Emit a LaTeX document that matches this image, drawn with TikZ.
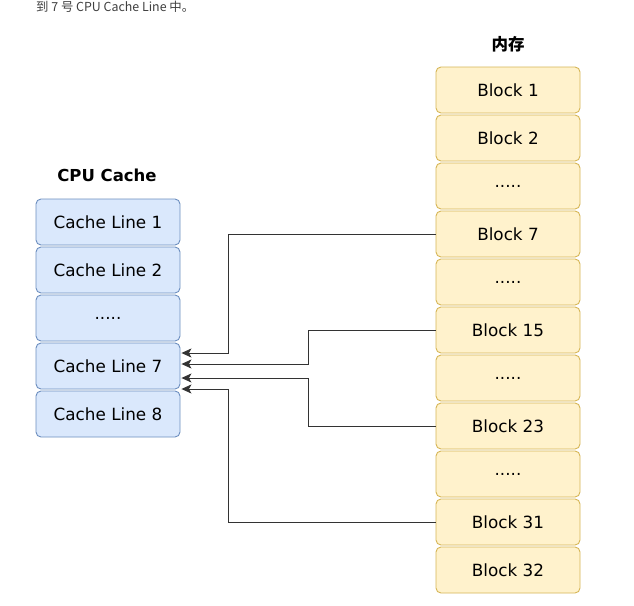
\documentclass[tikz,border=0pt]{standalone}
\usepackage{fontspec}
\setmainfont{DejaVu Sans}
\newfontfamily\cjk{Noto Sans CJK SC}
\usetikzlibrary{arrows.meta}
\definecolor{cacheFill}{HTML}{DAE8FC}
\definecolor{cacheStroke}{HTML}{6C8EBF}
\definecolor{blockFill}{HTML}{FFF2CC}
\definecolor{blockStroke}{HTML}{D6B656}
\definecolor{lineCol}{HTML}{333333}
\definecolor{topText}{HTML}{404040}
\begin{document}
\begin{tikzpicture}[x=1pt,y=-1pt,
  cacheline/.style={draw=cacheStroke, fill=cacheFill, line width=0.9pt, rounded corners=5pt,
    minimum width=144pt, minimum height=46pt, inner sep=0pt, font=\fontsize{16.8}{18}\selectfont},
  memblock/.style={draw=blockStroke, fill=blockFill, line width=0.9pt, rounded corners=5pt,
    minimum width=144pt, minimum height=46pt, inner sep=0pt, font=\fontsize{16.8}{18}\selectfont},
  title/.style={font=\fontsize{16.5}{18}\selectfont\bfseries},
  conn/.style={draw=lineCol, line width=0.9pt, -{Stealth[length=10pt,width=9pt,inset=2.5pt]}}]
\useasboundingbox (0,0) rectangle (634,605);
\fill[white] (0,0) rectangle (634,605);

\node[anchor=base west, text=topText, font=\cjk\fontsize{12.4}{13}\selectfont, inner sep=0pt] (top) at (36,12) {到 7 号 CPU Cache Line 中。};

\node[title] (cachetitle) at (107,175) {CPU Cache};
\node[title, font=\cjk\fontsize{16.5}{18}\selectfont\bfseries] (memtitle) at (508,44) {内存};

\node[cacheline] (cl1) at (108,222) {Cache Line 1};
\node[cacheline] (cl2) at (108,270) {Cache Line 2};
\node[cacheline] (cl3) at (108,318) {.....};
\node[cacheline] (cl7) at (108,366) {Cache Line 7};
\node[cacheline] (cl8) at (108,414) {Cache Line 8};

\node[memblock] (b1) at (508,90) {Block 1};
\node[memblock] (b2) at (508,138) {Block 2};
\node[memblock] (d1) at (508,186) {.....};
\node[memblock] (b7) at (508,234) {Block 7};
\node[memblock] (d2) at (508,282) {.....};
\node[memblock] (b15) at (508,330) {Block 15};
\node[memblock] (d3) at (508,378) {.....};
\node[memblock] (b23) at (508,426) {Block 23};
\node[memblock] (d4) at (508,474) {.....};
\node[memblock] (b31) at (508,522) {Block 31};
\node[memblock] (b32) at (508,570) {Block 32};

\draw[conn] (b7.west) -| ([xshift=48pt,yshift=13pt]cl7.east) -- ([xshift=1pt,yshift=13pt]cl7.east);
\draw[conn] (b15.west) -| ([xshift=128pt,yshift=2pt]cl7.east) -- ([xshift=1pt,yshift=2pt]cl7.east);
\draw[conn] (b23.west) -| ([xshift=128pt,yshift=-12pt]cl7.east) -- ([xshift=1pt,yshift=-12pt]cl7.east);
\draw[conn] (b31.west) -| ([xshift=48pt,yshift=-23pt]cl7.east) -- ([xshift=1pt,yshift=-23pt]cl7.east);
\end{tikzpicture}
\end{document}
